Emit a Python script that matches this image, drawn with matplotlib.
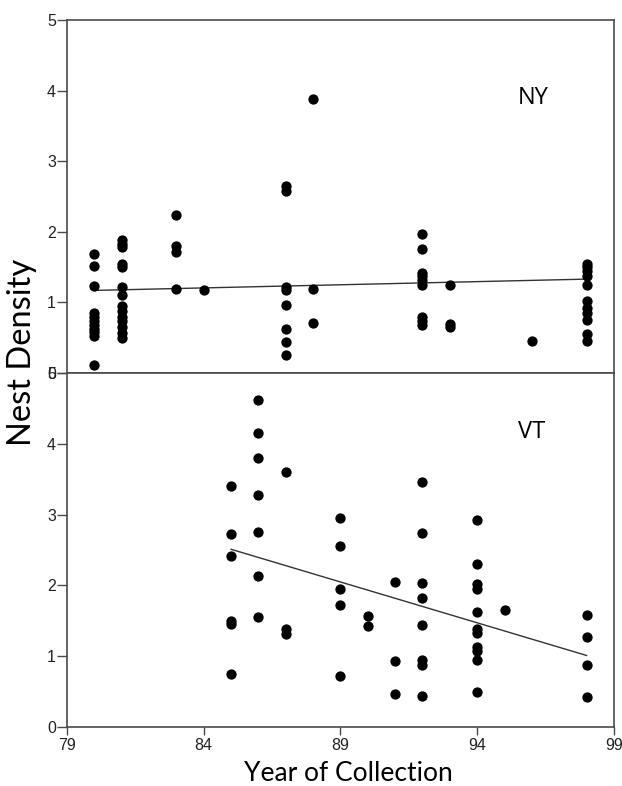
import numpy as np
import matplotlib.pyplot as plt

# NY nest density by collection year
ny_years = [80]*11 + [81]*14 + [83]*4 + [84] + [87]*8 + [88]*3 + [92]*9 + [93]*3 + [96] + [98]*11
ny_density = [1.68, 1.52, 1.23, 0.85, 0.80, 0.74, 0.68, 0.63, 0.58, 0.53, 0.12,
              1.88, 1.83, 1.78, 1.55, 1.50, 1.22, 1.10, 0.95, 0.88, 0.80, 0.74, 0.65, 0.56, 0.49,
              2.24, 1.80, 1.72, 1.19,
              1.17,
              2.65, 2.58, 1.22, 1.18, 0.97, 0.63, 0.44, 0.26,
              3.88, 1.19, 0.71,
              1.97, 1.76, 1.42, 1.37, 1.32, 1.25, 0.80, 0.73, 0.68,
              1.25, 0.70, 0.65,
              0.46,
              1.55, 1.50, 1.45, 1.38, 1.25, 1.02, 0.92, 0.85, 0.75, 0.55, 0.45]
ny_line_years = [80, 98]
ny_line_values = [1.17, 1.33]

# VT nest density by collection year
vt_years = [85]*6 + [86]*7 + [87]*3 + [89]*5 + [90]*2 + [91]*3 + [92]*8 + [94]*11 + [95] + [98]*4
vt_density = [3.40, 2.72, 2.42, 1.50, 1.46, 0.75,
              4.62, 4.15, 3.80, 3.27, 2.75, 2.13, 1.55,
              3.60, 1.38, 1.31,
              2.95, 2.55, 1.95, 1.72, 0.72,
              1.57, 1.43,
              2.05, 0.93, 0.47,
              3.46, 2.74, 2.03, 1.82, 1.44, 0.94, 0.88, 0.44,
              2.93, 2.30, 2.02, 1.95, 1.63, 1.38, 1.33, 1.13, 1.07, 0.95, 0.50,
              1.65,
              1.58, 1.27, 0.87, 0.43]
vt_line_years = [85, 98]
vt_line_values = [2.51, 1.01]

x_ticks = [79, 84, 89, 94, 99]
y_ticks = [0, 1, 2, 3, 4, 5]

fig = plt.figure(figsize=(6.22, 7.86), dpi=100)
ax_ny = fig.add_axes([0.1077, 0.5254, 0.8793, 0.4492])
ax_vt = fig.add_axes([0.1077, 0.0751, 0.8793, 0.4503])

spine_col = '#4a4a4a'
panels = [(ax_ny, ny_years, ny_density, ny_line_years, ny_line_values, 'NY', (0.852, 0.779)),
          (ax_vt, vt_years, vt_density, vt_line_years, vt_line_values, 'VT', (0.850, 0.833))]
for ax, xs, ys, lx, ly, label, pos in panels:
    ax.scatter(xs, ys, s=55, color='black', zorder=3, linewidths=0)
    ax.plot(lx, ly, color='#333333', lw=1.0, zorder=2)
    ax.set_xlim(79, 99)
    ax.set_ylim(0, 5)
    ax.set_yticks(y_ticks)
    ax.set_yticklabels([str(v) for v in y_ticks], family='Liberation Sans', fontsize=11.5, color='#222222')
    for s in ax.spines.values():
        s.set_color(spine_col)
        s.set_linewidth(1.2)
    ax.tick_params(axis='y', direction='out', length=7, width=1, color=spine_col, pad=1)
    ax.text(pos[0], pos[1], label, transform=ax.transAxes, fontsize=17,
            family='Open Sans', ha='center', va='center')

ax_ny.set_xticks([])
ax_vt.set_xticks(x_ticks)
ax_vt.set_xticklabels([str(v) for v in x_ticks], family='Liberation Sans', fontsize=11.5, color='#222222')
ax_vt.tick_params(axis='x', direction='out', length=6, width=1, color=spine_col, pad=2)

fig.text(0.5595, 0.006, 'Year of Collection', family='Lato', fontsize=19,
         ha='center', va='baseline')
fig.text(0.036, 0.552, 'Nest Density', rotation=90, family='Lato', fontsize=23.5,
         ha='center', va='center')

fig.savefig('out.png', dpi=100)
